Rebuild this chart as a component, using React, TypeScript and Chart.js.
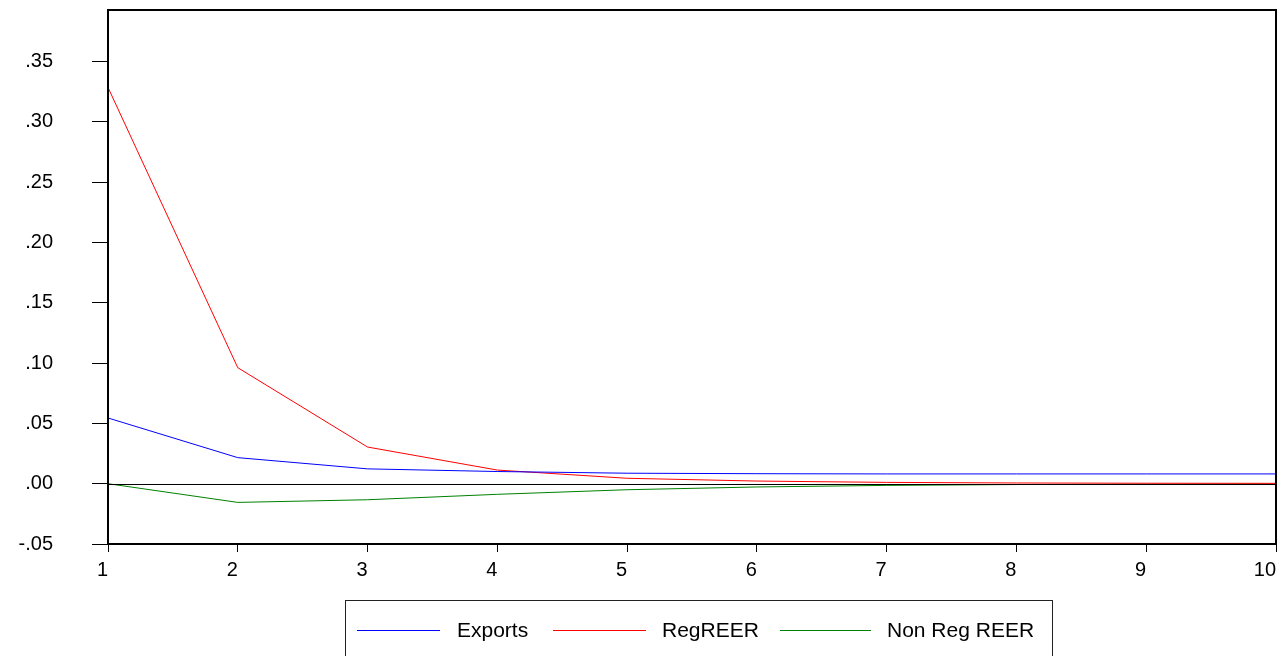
import React, { useEffect, useRef } from "react";
import { Chart, registerables } from "chart.js";

Chart.register(...registerables);

const periods = ["1", "2", "3", "4", "5", "6", "7", "8", "9", "10"];
const exportsSeries = [0.0545, 0.0216, 0.0123, 0.0101, 0.0087, 0.0083, 0.0081, 0.0081, 0.0081, 0.0081];
const regReerSeries = [0.3286, 0.0962, 0.0304, 0.0113, 0.0045, 0.0022, 0.0011, 0.0006, 0.0004, 0.0003];
const nonRegReerSeries = [0, -0.0155, -0.0133, -0.0088, -0.005, -0.0027, -0.0014, -0.0007, -0.0004, -0.0002];
const seriesNames = ["Exports", "RegREER", "Non Reg REER"];
const seriesColors = ["#0000FF", "#FF0000", "#008000"];
const yTickValues = [-0.05, 0, 0.05, 0.1, 0.15, 0.2, 0.25, 0.3, 0.35];

const fmt = (v: number) => {
  const s = v.toFixed(2);
  return s.replace("0.", ".");
};

const framePlugin = {
  id: "frame",
  afterDatasetsDraw(chart: any) {
    const { ctx, chartArea } = chart;
    const y0 = chart.scales.y.getPixelForValue(0);
    ctx.save();
    ctx.strokeStyle = "#000";
    ctx.lineWidth = 1;
    ctx.beginPath();
    ctx.moveTo(chartArea.left, Math.round(y0) + 0.5);
    ctx.lineTo(chartArea.right, Math.round(y0) + 0.5);
    ctx.stroke();
    ctx.restore();
  },
  afterDraw(chart: any) {
    const { ctx, chartArea } = chart;
    ctx.save();
    ctx.strokeStyle = "#000";
    ctx.lineWidth = 2;
    ctx.strokeRect(chartArea.left, chartArea.top, chartArea.right - chartArea.left, chartArea.bottom - chartArea.top);
    ctx.restore();
  },
};

export default function App() {
  const ref = useRef<HTMLCanvasElement>(null);
  useEffect(() => {
    if (!ref.current) return;
    const font = { family: "'Liberation Sans', Arial, sans-serif", size: 20, lineHeight: 1 };
    const chart = new Chart(ref.current, {
      type: "line",
      data: {
        labels: periods,
        datasets: [exportsSeries, regReerSeries, nonRegReerSeries].map((d, i) => ({
          label: seriesNames[i],
          data: d,
          borderColor: seriesColors[i],
          backgroundColor: seriesColors[i],
          borderWidth: 1,
          pointRadius: 0,
          tension: 0,
          fill: false,
        })),
      },
      options: {
        animation: false,
        responsive: false,
        maintainAspectRatio: false,
        layout: { padding: { left: 0, top: 10, right: 10, bottom: 72 } },
        plugins: { legend: { display: false }, tooltip: { enabled: false } },
        scales: {
          x: {
            type: "category",
            offset: false,
            border: { display: false },
            grid: { display: true, drawOnChartArea: false, drawTicks: true, tickLength: 8, color: "#000", lineWidth: 1 },
            ticks: { color: "#000", font, padding: 8, align: "end", maxRotation: 0, autoSkip: false },
            afterFit: (s: any) => { s.height = 40; s.paddingLeft = 0; s.paddingRight = 0; },
          },
          y: {
            type: "linear",
            min: -0.05,
            max: 0.3928,
            border: { display: false },
            grid: { display: true, drawOnChartArea: false, drawTicks: true, tickLength: 16, color: "#000", lineWidth: 1 },
            ticks: { color: "#000", font, padding: 39, callback: (v: any) => fmt(Number(v)) },
            afterBuildTicks: (s: any) => { s.ticks = yTickValues.map((v) => ({ value: v })); },
            afterFit: (s: any) => { s.width = 108; s.paddingTop = 0; s.paddingBottom = 0; },
          },
        },
      },
      plugins: [framePlugin],
    } as any);
    return () => chart.destroy();
  }, []);

  const legendFont: React.CSSProperties = {
    position: "absolute",
    fontFamily: "'Liberation Sans', Arial, sans-serif",
    fontSize: 21,
    lineHeight: "21px",
    top: 619,
    color: "#000",
    whiteSpace: "nowrap",
  };
  const lines = [
    { x1: 357, x2: 440, tx: 457 },
    { x1: 553, x2: 646, tx: 662 },
    { x1: 780, x2: 871, tx: 887 },
  ];

  return (
    <div style={{ position: "fixed", left: 0, top: 0, width: 1286, height: 656, overflow: "hidden", background: "#fff" }}>
      <canvas ref={ref} width={1286} height={656} style={{ position: "absolute", left: 0, top: 0, width: 1286, height: 656 }} />
      <div style={{ position: "absolute", left: 345, top: 600, width: 708, height: 80, border: "1px solid #222", boxSizing: "border-box" }} />
      {lines.map((l, i) => (
        <React.Fragment key={i}>
          <div style={{ position: "absolute", left: l.x1, top: 630, width: l.x2 - l.x1, height: 1, background: seriesColors[i] }} />
          <span style={{ ...legendFont, left: l.tx }}>{seriesNames[i]}</span>
        </React.Fragment>
      ))}
    </div>
  );
}
